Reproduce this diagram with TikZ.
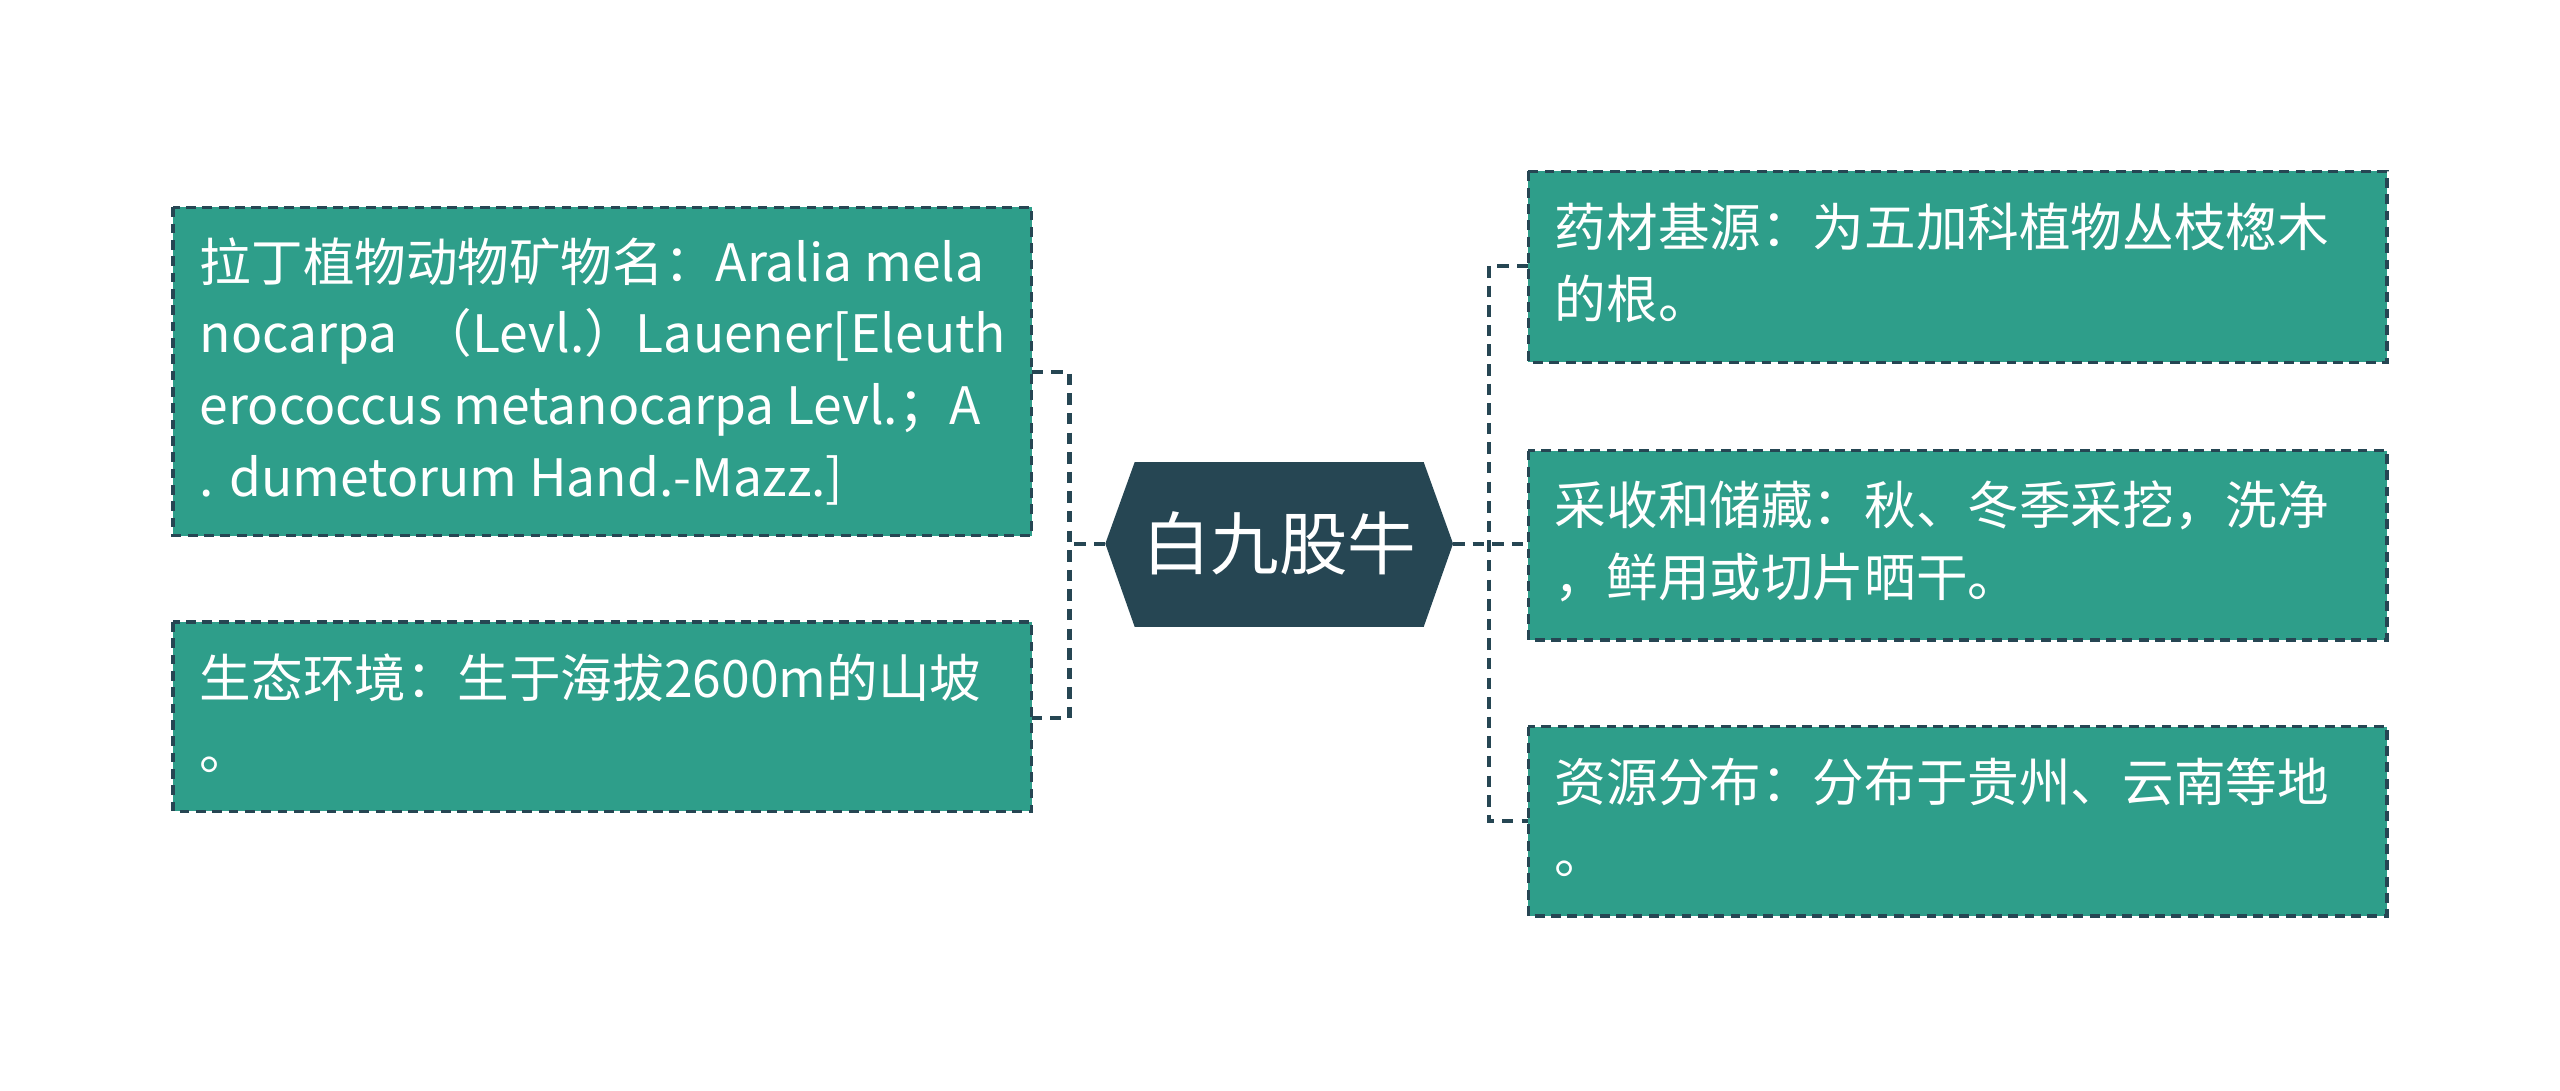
\documentclass[tikz,border=0pt]{standalone}
\usepackage{fontspec}
\setmainfont{Noto Sans CJK SC}
\begin{document}
\begin{tikzpicture}[x=0.5pt,y=-0.5pt]
\definecolor{teal1}{HTML}{2E9E8A}
\definecolor{dark1}{HTML}{264653}
\tikzset{
  box/.style={fill=teal1,draw=dark1,dash pattern=on 3pt off 2pt,line width=1pt},
  txt/.style={anchor=north west,inner sep=0pt,text=white,align=left,font=\fontsize{15.8pt}{22pt}\selectfont},
  conn/.style={draw=dark1,dash pattern=on 3.5pt off 2.5pt,line width=1.3pt}
}
\useasboundingbox (0,0) rectangle (1568,668);
\fill[white] (0,0) rectangle (1568,668);
% left boxes
\draw[box] (106,127) rectangle (632,328);
\draw[box] (106,381) rectangle (632,497);
% right boxes
\draw[box] (936,105) rectangle (1462,222);
\draw[box] (936,276) rectangle (1462,392);
\draw[box] (936,445) rectangle (1462,561);
% hexagon
\fill[dark1] (677,333) -- (695,283) -- (872,283) -- (890,333) -- (872,384) -- (695,384) -- cycle;
\node[text=white,font=\fontsize{21pt}{24pt}\selectfont] (c) at (783.5,333) {白九股牛};
% texts
\node[txt] (l1) at (122,145) {拉丁植物动物矿物名：Aralia mela\\nocarpa\ \ （Levl.）Lauener[Eleuth\\erococcus metanocarpa Levl.；A\\. dumetorum Hand.-Mazz.]};
\node[txt] (l2) at (122,400) {生态环境：生于海拔2600m的山坡\\。};
\node[txt] (r1) at (952,124) {药材基源：为五加科植物丛枝楤木\\的根。};
\node[txt] (r2) at (952,294) {采收和储藏：秋、冬季采挖，洗净\\，鲜用或切片晒干。};
\node[txt] (r3) at (952,464) {资源分布：分布于贵州、云南等地\\。};
% connectors
\coordinate (lh) at (677,333);
\coordinate (rh) at (890,333);
\draw[conn] (lh) -- (655,333);
\draw[conn] (632,228) -- (655,228) -- (655,440) -- (632,440);
\draw[conn] (rh) -- (912,333) -- (936,333);
\draw[conn] (936,163) -- (912,163) -- (912,503) -- (936,503);
\end{tikzpicture}
\end{document}
